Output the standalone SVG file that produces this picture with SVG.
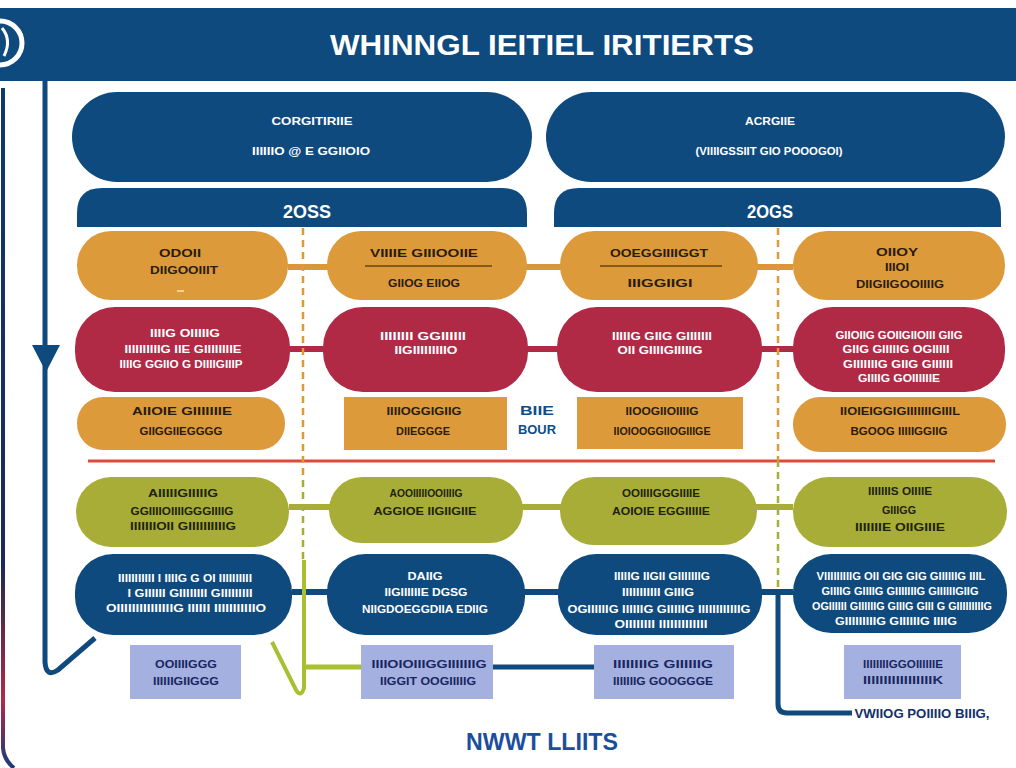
<svg xmlns="http://www.w3.org/2000/svg" width="1016" height="768" viewBox="0 0 1016 768">
<defs>
<style>
.navy{fill:#0f4a7e}
.org{fill:#dc9a3b}
.red{fill:#b02a46}
.grn{fill:#a8ad38}
.lav{fill:#a3b0e0}
text{font-family:"Liberation Sans","DejaVu Sans",sans-serif;font-weight:bold;text-anchor:middle}
.w{fill:#ffffff;font-size:11px}
.d{fill:#2a1c0c;font-size:11px}
.dg{fill:#1e230c;font-size:11px}
.dl{fill:#1a2660;font-size:11px}
.tab{fill:#ffffff;font-size:18px}
.conn{fill:none;stroke-width:6}
</style>
<linearGradient id="edge" x1="0" y1="0" x2="0" y2="1">
<stop offset="0" stop-color="#0f3a6a"/>
<stop offset="0.7" stop-color="#1a2a55"/>
<stop offset="0.9" stop-color="#b02a46"/>
<stop offset="1" stop-color="#1a3a7a"/>
</linearGradient>
</defs>
<rect width="1016" height="768" fill="#ffffff"/>

<g id="header">
<rect x="0" y="8" width="1016" height="73" class="navy"/>
<circle cx="0" cy="43" r="22" fill="#0f4a7e" stroke="#ffffff" stroke-width="5"/>
<path d="M2,28 Q12,40 4,56" fill="none" stroke="#ffffff" stroke-width="3"/>
<text x="542" y="55" fill="#ffffff" style="font-size:29px" textLength="424" lengthAdjust="spacingAndGlyphs">WHINNGL IEITIEL IRITIERTS</text>
</g>

<g id="connectors">
<path d="M3,88 L3,748 Q4,760 14,768" fill="none" stroke="url(#edge)" stroke-width="4"/>
<path d="M45,80 L45,662 Q46,678 58,670 L95,638" fill="none" stroke="#0f4a7e" stroke-width="5"/>
<polygon points="32,345 60,345 46,372" fill="#0f4a7e"/>
<line x1="288" y1="267" x2="793" y2="267" class="conn" stroke="#d9963a"/>
<line x1="290" y1="349" x2="793" y2="349" class="conn" stroke="#b02a46"/>
<line x1="88" y1="461" x2="995" y2="461" stroke="#dc4a3a" stroke-width="3"/>
<line x1="289" y1="507" x2="793" y2="507" class="conn" stroke="#a8ad38"/>
<line x1="292" y1="592" x2="793" y2="592" class="conn" stroke="#0f4a7e"/>
<line x1="303" y1="228" x2="303" y2="480" stroke="#dc9a3b" stroke-width="2.5" stroke-dasharray="7,5"/>
<line x1="303" y1="480" x2="303" y2="560" stroke="#a8ad38" stroke-width="2.5" stroke-dasharray="7,5"/>
<path d="M272,642 L296,690 Q301,698 304,688 L304,560" fill="none" stroke="#a8bf30" stroke-width="4"/>
<line x1="304" y1="667" x2="361" y2="667" stroke="#a8bf30" stroke-width="5"/>
<line x1="493" y1="667" x2="594" y2="667" stroke="#0f4a7e" stroke-width="5"/>
<line x1="778" y1="228" x2="778" y2="460" stroke="#dc9a3b" stroke-width="2.5" stroke-dasharray="7,5"/>
<line x1="778" y1="460" x2="778" y2="592" stroke="#a8ad38" stroke-width="2.5" stroke-dasharray="7,5"/>
<path d="M778,592 L778,704 Q778,713 787,713 L852,713" fill="none" stroke="#0f4a7e" stroke-width="5"/>
</g>

<g id="top-left">
<rect x="72" y="92" width="460" height="90" rx="45" class="navy"/>
<text x="312" y="125" class="w" textLength="81" lengthAdjust="spacingAndGlyphs">CORGITIRIIE</text>
<text x="311" y="155" class="w" textLength="118" lengthAdjust="spacingAndGlyphs">IIIIIIO @ E GGIIOIO</text>
</g>
<g id="top-right">
<rect x="546" y="92" width="459" height="90" rx="45" class="navy"/>
<text x="770" y="125" class="w" textLength="50" lengthAdjust="spacingAndGlyphs">ACRGIIE</text>
<text x="769" y="155" class="w" textLength="147" lengthAdjust="spacingAndGlyphs">(VIIIIGSSIIT GIO POOOGOI)</text>
</g>
<g id="tab-left">
<path d="M77,227 L77,213 Q77,188 102,188 L502,188 Q527,188 527,213 L527,227 Z" class="navy"/>
<text x="307" y="218" class="tab" textLength="48" lengthAdjust="spacingAndGlyphs">2OSS</text>
</g>
<g id="tab-right">
<path d="M554,227 L554,213 Q554,188 579,188 L976,188 Q1001,188 1001,213 L1001,227 Z" class="navy"/>
<text x="770" y="218" class="tab" textLength="46" lengthAdjust="spacingAndGlyphs">2OGS</text>
</g>

<g id="o1">
<rect x="77" y="231" width="211" height="69" rx="34" class="org"/>
<text x="180" y="257" class="d" textLength="42" lengthAdjust="spacingAndGlyphs">ODOII</text>
<text x="184" y="274" class="d" textLength="68" lengthAdjust="spacingAndGlyphs">DIIGOOIIIT</text>
<line x1="177" y1="291" x2="184" y2="291" stroke="#f4e2c0" stroke-width="1.5"/>
</g>
<g id="o2">
<rect x="327" y="231" width="200" height="69" rx="34" class="org"/>
<text x="424" y="257" class="d" textLength="108" lengthAdjust="spacingAndGlyphs">VIIIIE GIIIOOIIE</text>
<line x1="365" y1="266" x2="492" y2="266" stroke="#6b4410" stroke-width="1.5"/>
<text x="424" y="287" class="d" textLength="72" lengthAdjust="spacingAndGlyphs">GIIOG EIIOG</text>
</g>
<g id="o3">
<rect x="560" y="231" width="198" height="69" rx="34" class="org"/>
<text x="659" y="257" class="d" textLength="98" lengthAdjust="spacingAndGlyphs">OOEGGIIIIGGT</text>
<line x1="600" y1="266" x2="722" y2="266" stroke="#6b4410" stroke-width="1.5"/>
<text x="660" y="287" class="d" textLength="65" lengthAdjust="spacingAndGlyphs">IIIGGIIGI</text>
</g>
<g id="o4">
<rect x="793" y="231" width="212" height="69" rx="34" class="org"/>
<text x="897" y="256" class="d" textLength="42" lengthAdjust="spacingAndGlyphs">OIIOY</text>
<text x="897" y="271" class="d" textLength="24" lengthAdjust="spacingAndGlyphs">IIIOI</text>
<text x="900" y="288" class="d" textLength="88" lengthAdjust="spacingAndGlyphs">DIIGIIGOOIIIIG</text>
</g>

<g id="r1">
<rect x="75" y="307" width="215" height="85" rx="40" class="red"/>
<text x="185" y="337" class="w" textLength="70" lengthAdjust="spacingAndGlyphs">IIIIG OIIIIIG</text>
<text x="183" y="353" class="w" textLength="117" lengthAdjust="spacingAndGlyphs">IIIIIIIIIIG IIE GIIIIIIIIE</text>
<text x="181" y="368" class="w" textLength="123" lengthAdjust="spacingAndGlyphs">IIIIG GGIIO G DIIIIGIIIP</text>
</g>
<g id="r2">
<rect x="323" y="307" width="205" height="85" rx="40" class="red"/>
<text x="423" y="340" class="w" textLength="86" lengthAdjust="spacingAndGlyphs">IIIIIIII GGIIIIII</text>
<text x="426" y="354" class="w" textLength="63" lengthAdjust="spacingAndGlyphs">IIGIIIIIIIIIO</text>
</g>
<g id="r3">
<rect x="557" y="307" width="205" height="85" rx="40" class="red"/>
<text x="662" y="340" class="w" textLength="100" lengthAdjust="spacingAndGlyphs">IIIIIG GIIG GIIIIIII</text>
<text x="660" y="354" class="w" textLength="85" lengthAdjust="spacingAndGlyphs">OII GIIIIGIIIIIG</text>
</g>
<g id="r4">
<rect x="793" y="307" width="212" height="85" rx="40" class="red"/>
<text x="899" y="339" class="w" textLength="127" lengthAdjust="spacingAndGlyphs">GIIOIIG GOIIGIIOIII GIIG</text>
<text x="896" y="353" class="w" textLength="107" lengthAdjust="spacingAndGlyphs">GIIG GIIIIIG OGIIIII</text>
<text x="898" y="368" class="w" textLength="110" lengthAdjust="spacingAndGlyphs">GIIIIIIIG GIIG GIIIIII</text>
<text x="899" y="382" class="w" textLength="82" lengthAdjust="spacingAndGlyphs">GIIIIG GOIIIIIIE</text>
</g>

<g id="p1">
<rect x="77" y="397" width="208" height="53" rx="26" class="org"/>
<text x="182" y="415" class="d" textLength="100" lengthAdjust="spacingAndGlyphs">AIIOIE GIIIIIIIE</text>
<text x="181" y="435" class="d" textLength="83" lengthAdjust="spacingAndGlyphs">GIIGGIIEGGGG</text>
</g>
<g id="p2">
<rect x="344" y="397" width="163" height="53" class="org"/>
<text x="424" y="415" class="d" textLength="75" lengthAdjust="spacingAndGlyphs">IIIIOGGIGIIG</text>
<text x="423" y="435" class="d" textLength="54" lengthAdjust="spacingAndGlyphs">DIIEGGGE</text>
</g>
<g id="mid-label">
<text x="537" y="415" style="font-size:12px;fill:#0e4d8a" textLength="34" lengthAdjust="spacingAndGlyphs">BIIE</text>
<text x="537" y="434" style="font-size:12px;fill:#0e4d8a" textLength="38" lengthAdjust="spacingAndGlyphs">BOUR</text>
</g>
<g id="p3">
<rect x="577" y="397" width="166" height="52" class="org"/>
<text x="662" y="415" class="d" textLength="73" lengthAdjust="spacingAndGlyphs">IIOOGIIOIIIIG</text>
<text x="662" y="435" class="d" textLength="97" lengthAdjust="spacingAndGlyphs">IIOIOOGGIIOGIIIGE</text>
</g>
<g id="p4">
<rect x="793" y="397" width="213" height="55" rx="27" class="org"/>
<text x="900" y="415" class="d" textLength="120" lengthAdjust="spacingAndGlyphs">IIOIEIGGIGIIIIIIIGIIIL</text>
<text x="899" y="435" class="d" textLength="97" lengthAdjust="spacingAndGlyphs">BGOOG IIIIIGGIIG</text>
</g>

<g id="g1">
<rect x="76" y="477" width="213" height="70" rx="35" class="grn"/>
<text x="183" y="497" class="dg" textLength="70" lengthAdjust="spacingAndGlyphs">AIIIIIGIIIIIG</text>
<text x="182" y="515" class="dg" textLength="103" lengthAdjust="spacingAndGlyphs">GGIIIIOIIIIGGGIIIIG</text>
<text x="183" y="530" class="dg" textLength="106" lengthAdjust="spacingAndGlyphs">IIIIIIIOII GIIIIIIIIIIG</text>
</g>
<g id="g2">
<rect x="329" y="477" width="194" height="66" rx="33" class="grn"/>
<text x="426" y="497" class="dg" textLength="73" lengthAdjust="spacingAndGlyphs">AOOIIIIIOOIIIIG</text>
<text x="425" y="515" class="dg" textLength="103" lengthAdjust="spacingAndGlyphs">AGGIOE IIGIIGIIE</text>
</g>
<g id="g3">
<rect x="560" y="477" width="197" height="68" rx="34" class="grn"/>
<text x="661" y="497" class="dg" textLength="78" lengthAdjust="spacingAndGlyphs">OOIIIIGGGIIIIE</text>
<text x="661" y="515" class="dg" textLength="98" lengthAdjust="spacingAndGlyphs">AOIOIE EGGIIIIIE</text>
</g>
<g id="g4">
<rect x="793" y="477" width="214" height="70" rx="35" class="grn"/>
<text x="900" y="495" class="dg" textLength="64" lengthAdjust="spacingAndGlyphs">IIIIIIIS OIIIIE</text>
<text x="899" y="514" class="dg" textLength="34" lengthAdjust="spacingAndGlyphs">GIIIGG</text>
<text x="900" y="531" class="dg" textLength="90" lengthAdjust="spacingAndGlyphs">IIIIIIIE OIIGIIIE</text>
</g>

<g id="b1">
<rect x="75" y="554" width="217" height="81" rx="38" class="navy"/>
<text x="185" y="582" class="w" textLength="134" lengthAdjust="spacingAndGlyphs">IIIIIIIIIII I IIIIG G OI IIIIIIIIII</text>
<text x="190" y="597" class="w" textLength="125" lengthAdjust="spacingAndGlyphs">I GIIIIII GIIIIIIII GIIIIIIIII</text>
<text x="186" y="612" class="w" textLength="160" lengthAdjust="spacingAndGlyphs">OIIIIIIIIIIIIIIIG IIIIII IIIIIIIIIIIO</text>
</g>
<g id="b2">
<rect x="327" y="554" width="198" height="81" rx="38" class="navy"/>
<text x="425" y="580" class="w" textLength="35" lengthAdjust="spacingAndGlyphs">DAIIG</text>
<text x="426" y="596" class="w" textLength="83" lengthAdjust="spacingAndGlyphs">IIGIIIIIIE DGSG</text>
<text x="425" y="613" class="w" textLength="126" lengthAdjust="spacingAndGlyphs">NIIGDOEGGDIIA EDIIG</text>
</g>
<g id="b3">
<rect x="558" y="554" width="204" height="81" rx="38" class="navy"/>
<text x="662" y="580" class="w" textLength="96" lengthAdjust="spacingAndGlyphs">IIIIIG IIGII GIIIIIIIG</text>
<text x="658" y="596" class="w" textLength="72" lengthAdjust="spacingAndGlyphs">IIIIIIIIIII GIIIG</text>
<text x="659" y="613" class="w" textLength="183" lengthAdjust="spacingAndGlyphs">OGIIIIIIG IIIIIIG GIIIIIG IIIIIIIIIIIIG</text>
<text x="661" y="628" class="w" textLength="93" lengthAdjust="spacingAndGlyphs">OIIIIIIII IIIIIIIIIIIII</text>
</g>
<g id="b4">
<rect x="793" y="554" width="214" height="79" rx="38" class="navy"/>
<text x="901" y="580" class="w" textLength="169" lengthAdjust="spacingAndGlyphs">VIIIIIIIIIG OII GIG GIG GIIIIIIG IIIL</text>
<text x="900" y="595" class="w" textLength="157" lengthAdjust="spacingAndGlyphs">GIIIIG GIIIIG GIIIIIIIG GIIIIIIGIIG</text>
<text x="902" y="610" class="w" textLength="180" lengthAdjust="spacingAndGlyphs">OGIIIIII GIIIIIIG GIIIG GIII G GIIIIIIIIIG</text>
<text x="896" y="625" class="w" textLength="122" lengthAdjust="spacingAndGlyphs">GIIIIIIIIIG GIIIIIIG IIIIG</text>
</g>

<g id="l1">
<rect x="130" y="645" width="111" height="54" class="lav"/>
<text x="186" y="668" class="dl" textLength="62" lengthAdjust="spacingAndGlyphs">OOIIIIGGG</text>
<text x="186" y="685" class="dl" textLength="66" lengthAdjust="spacingAndGlyphs">IIIIIIGIIGGG</text>
</g>
<g id="l2">
<rect x="361" y="645" width="132" height="54" class="lav"/>
<text x="429" y="668" class="dl" textLength="115" lengthAdjust="spacingAndGlyphs">IIIIOIOIIIGGIIIIIIIG</text>
<text x="428" y="685" class="dl" textLength="96" lengthAdjust="spacingAndGlyphs">IIGGIT OOGIIIIIG</text>
</g>
<g id="l3">
<rect x="594" y="645" width="140" height="54" class="lav"/>
<text x="663" y="668" class="dl" textLength="100" lengthAdjust="spacingAndGlyphs">IIIIIIIIG GIIIIIIG</text>
<text x="663" y="685" class="dl" textLength="100" lengthAdjust="spacingAndGlyphs">IIIIIIIG GOOGGGE</text>
</g>
<g id="l4">
<rect x="844" y="645" width="117" height="54" class="lav"/>
<text x="903" y="668" class="dl" textLength="80" lengthAdjust="spacingAndGlyphs">IIIIIIIIGGOIIIIIIE</text>
<text x="903" y="684" class="dl" textLength="80" lengthAdjust="spacingAndGlyphs">IIIIIIIIIIIIIIIIIK</text>
</g>

<g id="side-label">
<text x="922" y="718" style="font-size:12px;fill:#13306a" textLength="135" lengthAdjust="spacingAndGlyphs">VWIIOG POIIIIO BIIIG,</text>
</g>
<g id="footer">
<text x="542" y="750" style="font-size:23px;fill:#1b4f9c" textLength="152" lengthAdjust="spacingAndGlyphs">NWWT LLIITS</text>
</g>
</svg>
